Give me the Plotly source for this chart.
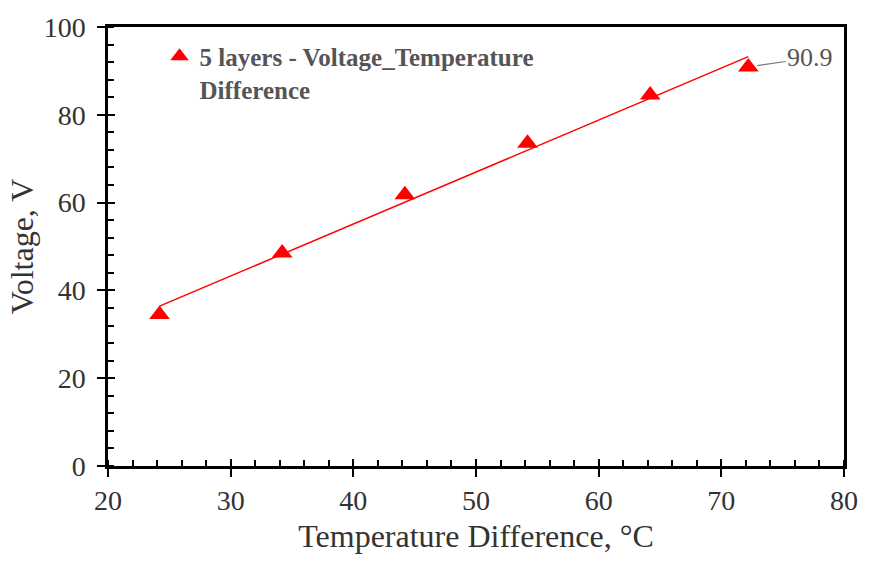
import numpy as np
import plotly.graph_objects as go

temp_diff = [24.2, 34.2, 44.2, 54.2, 64.2, 72.2]
voltage = [34.5, 48.5, 61.8, 73.5, 84.5, 90.9]
series_name = "5 layers - Voltage_Temperature<br>Difference"
x_ticks = [20, 30, 40, 50, 60, 70, 80]
y_ticks = [0, 20, 40, 60, 80, 100]

slope, intercept = np.polyfit(temp_diff, voltage, 1)
fit_x = [min(temp_diff), max(temp_diff)]
fit_y = [slope * v + intercept for v in fit_x]

FONT = "Liberation Serif"

fig = go.Figure()
fig.add_trace(go.Scatter(x=fit_x, y=fit_y, mode="lines",
                         line=dict(color="#ff0000", width=1.5), showlegend=False))
fig.add_trace(go.Scatter(x=temp_diff, y=voltage, mode="markers", name=series_name,
                         marker=dict(symbol="triangle-up", size=18, color="#ff0000")))
# overlay axes to give major ticks crossing the axis line
fig.add_trace(go.Scatter(x=temp_diff, y=voltage, mode="markers", xaxis="x2", yaxis="y2",
                         marker=dict(opacity=0), showlegend=False, hoverinfo="skip"))

fig.add_annotation(x=temp_diff[-1], y=voltage[-1], text=f"{voltage[-1]:.1f}",
                   showarrow=True, arrowhead=0, arrowwidth=1.2, arrowcolor="#777",
                   ax=62, ay=-9, standoff=9,
                   font=dict(family=FONT, size=26, color="#555"))

axis_common = dict(showgrid=False, zeroline=False, showline=True, linecolor="black",
                   linewidth=2.5, mirror=True, tickcolor="black", tickwidth=2,
                   tickfont=dict(family=FONT, size=28, color="#333"))

fig.update_layout(
    width=870, height=561,
    margin=dict(l=108, r=16, t=17, b=91),
    paper_bgcolor="white", plot_bgcolor="white",
    xaxis=dict(range=[20, 80], tickvals=x_ticks, ticks="outside", ticklen=8,
               minor=dict(dtick=2, ticks="inside", ticklen=6, tickwidth=2, tickcolor="black"),
               title=dict(text="Temperature Difference, °C", standoff=10,
                          font=dict(family=FONT, size=32, color="#333")),
               **axis_common),
    yaxis=dict(range=[0, 100], tickvals=y_ticks, ticks="outside", ticklen=8,
               ticklabelstandoff=6,
               minor=dict(dtick=4, ticks="inside", ticklen=6, tickwidth=2, tickcolor="black"),
               title=dict(text="Voltage, V", standoff=1,
                          font=dict(family=FONT, size=32, color="#333")),
               **axis_common),
    xaxis2=dict(overlaying="x", range=[20, 80], tickvals=x_ticks, ticks="inside", ticklen=7,
                tickwidth=2, tickcolor="black", showticklabels=False, showline=False,
                showgrid=False, zeroline=False, side="bottom", anchor="y2"),
    yaxis2=dict(overlaying="y", range=[0, 100], tickvals=y_ticks, ticks="inside", ticklen=7,
                tickwidth=2, tickcolor="black", showticklabels=False, showline=False,
                showgrid=False, zeroline=False, side="left", anchor="x2"),
    legend=dict(x=0.07, y=0.985, xanchor="left", yanchor="top", valign="top",
                bgcolor="rgba(0,0,0,0)",
                font=dict(family=FONT, size=25, color="#555", weight="bold")),
)

fig.write_html("out.html")
